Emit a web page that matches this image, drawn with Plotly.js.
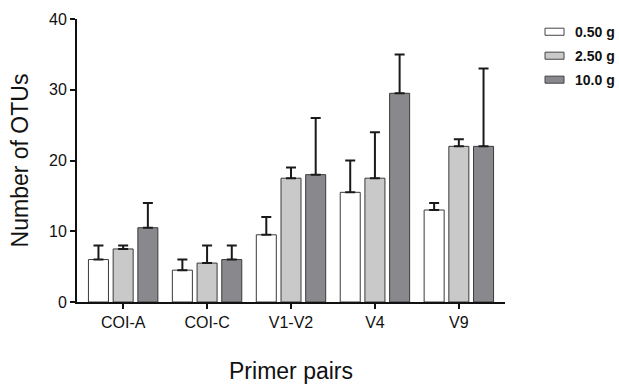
<!DOCTYPE html>
<html>
<head>
<meta charset="utf-8">
<script src="https://cdn.plot.ly/plotly-3.0.1.min.js"></script>
<style>html,body{margin:0;padding:0;background:#fff;}#chart{width:619px;height:384px;}</style>
</head>
<body>
<div id="chart"></div>
<script>
var categories = ["COI-A", "COI-C", "V1-V2", "V4", "V9"];
var seriesNames = ["0.50 g", "2.50 g", "10.0 g"];
var vals_050 = [6, 4.5, 9.5, 15.5, 13];
var vals_250 = [7.5, 5.5, 17.5, 17.5, 22];
var vals_100 = [10.5, 6, 18, 29.5, 22];
var err_050 = [2, 1.5, 2.5, 4.5, 1];
var err_250 = [0.5, 2.5, 1.5, 6.5, 1];
var err_100 = [3.5, 2, 8, 5.5, 11];
var yTicks = [0, 10, 20, 30, 40];

var fills = ["#ffffff", "#c9c9c9", "#89888d"];
var values = [vals_050, vals_250, vals_100];
var errs = [err_050, err_250, err_100];
var font = "Arial, 'Liberation Sans', Helvetica, sans-serif";

var traces = seriesNames.map(function(name, i) {
  return {
    type: "bar",
    name: name,
    x: categories,
    y: values[i],
    marker: {color: fills[i], line: {color: "#3a3a3a", width: 1}},
    error_y: {
      type: "data",
      symmetric: false,
      array: errs[i],
      arrayminus: categories.map(function(){return 0;}),
      color: "#1a1a1a",
      thickness: 2,
      width: 5
    },
    hoverinfo: "skip"
  };
});

// Custom legend (paper coordinates) to reproduce the wide, flat swatches
var legendShapes = [], legendAnns = [];
var lgX0 = 1.0935, lgX1 = 1.1379, lgTextX = 1.1600;
var lgY0 = 0.955, lgStep = 0.0847, lgHalf = 0.0125;
seriesNames.forEach(function(name, i) {
  var yc = lgY0 - i * lgStep;
  legendShapes.push({
    type: "rect", xref: "paper", yref: "paper",
    x0: lgX0, x1: lgX1, y0: yc - lgHalf, y1: yc + lgHalf,
    fillcolor: fills[i], line: {color: "#444", width: 1}
  });
  legendAnns.push({
    xref: "paper", yref: "paper", x: lgTextX, y: yc,
    xanchor: "left", yanchor: "middle", showarrow: false,
    text: "<b>" + name + "</b>",
    font: {family: font, size: 14, color: "#111"}
  });
});

var layout = {
  width: 619,
  height: 384,
  paper_bgcolor: "#ffffff",
  plot_bgcolor: "#ffffff",
  margin: {l: 77, r: 114, t: 19, b: 82, autoexpand: false},
  barmode: "group",
  bargap: 0.117,
  bargroupgap: 0.19,
  font: {family: font, color: "#111"},
  showlegend: false,
  shapes: legendShapes,
  annotations: legendAnns,
  xaxis: {
    type: "category",
    range: [-0.55, 4.55],
    automargin: false,
    showline: true, linecolor: "#111", linewidth: 2,
    ticks: "outside", ticklen: 5, tickwidth: 2, tickcolor: "#111",
    showgrid: false, zeroline: false,
    tickfont: {family: font, size: 16, color: "#111"},
    title: {text: "Primer pairs", font: {family: font, size: 23, color: "#111"}, standoff: 34}
  },
  yaxis: {
    range: [0, 40],
    automargin: false,
    tickvals: yTicks,
    ticktext: yTicks.map(String),
    showline: true, linecolor: "#111", linewidth: 2,
    ticks: "outside", ticklen: 5, tickwidth: 2, tickcolor: "#111",
    showgrid: false, zeroline: false,
    tickfont: {family: font, size: 16, color: "#111"},
    title: {text: "Number of OTUs", font: {family: font, size: 23, color: "#111"}, standoff: 14}
  }
};

Plotly.newPlot("chart", traces, layout, {displayModeBar: false, staticPlot: true});
</script>
</body>
</html>
